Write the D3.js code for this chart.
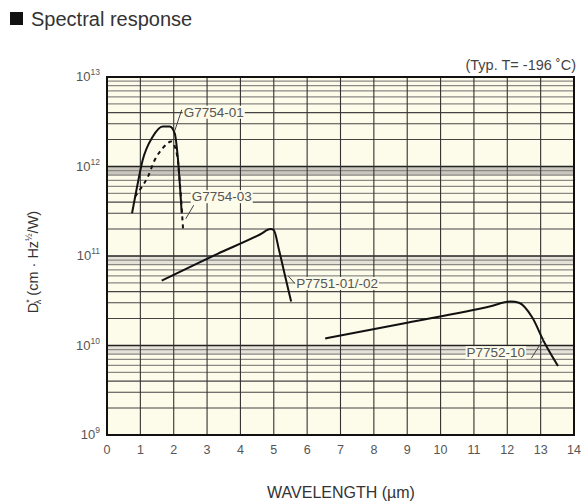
<!DOCTYPE html>
<html>
<head>
<meta charset="utf-8">
<script src="https://cdn.jsdelivr.net/npm/d3@7"></script>
<style>
  body { margin: 0; background: #fff; }
  text { font-family: "Liberation Sans", Arial, sans-serif; }
</style>
</head>
<body>
<svg></svg>
<script>
const width = 582
const height = 504

// curve data (wavelength in um, D* in cm Hz^1/2 / W)
const g01X = [0.75, 0.9, 1.07, 1.37, 1.67, 1.88, 2.03, 2.12, 2.24]
const g01Y = [3e11, 5.9e11, 1.18e12, 2.15e12, 2.8e12, 2.8e12, 2.35e12, 1.3e12, 3e11]

const g03X = [0.84, 1.0, 1.22, 1.43, 1.67, 1.93, 2.1, 2.2, 2.28]
const g03Y = [4.6e11, 5.6e11, 7.6e11, 1.18e12, 1.6e12, 1.9e12, 1.35e12, 5.5e11, 2e11]

const p51X = [1.64, 3.3, 4.6, 4.9, 5.0, 5.15, 5.3, 5.52]
const p51Y = [5.3e10, 1.05e11, 1.75e11, 2.0e11, 1.95e11, 1.2e11, 6.9e10, 3.1e10]

const p52X = [6.54, 9.0, 11.5, 12.1, 12.35, 12.75, 13.1, 13.52]
const p52Y = [1.2e10, 1.8e10, 2.75e10, 3.1e10, 3.0e10, 2.05e10, 1.1e10, 5.9e9]

// labels: text position and leader line ends
const labelNames = ["G7754-01", "G7754-03", "P7751-01/-02", "P7752-10"]
const labelX = [2.3, 2.54, 5.67, 10.78]
const labelY = [3.6e12, 4.1e11, 4.4e10, 7.4e9]
const leaderFrom = [[2.24, 4.3e12], [2.6, 3.7e11], [5.64, 4.9e10], [12.72, 7.2e9]]
const leaderTo = [[2.03, 2.5e12], [2.36, 2.6e11], [5.43, 6e10], [13.1, 1.2e10]]

const xTicks = d3.range(0, 15)
const yDecades = [9, 10, 11, 12, 13]

const svg = d3.select('svg')
  .attr('width', width)
  .attr('height', height)

const x = d3.scaleLinear().domain([0, 14]).range([107, 574])
const y = d3.scaleLog().domain([1e9, 1e13]).range([435, 77])

// title
svg.append('rect').attr('x', 10).attr('y', 12).attr('width', 13).attr('height', 13).attr('fill', '#111')
svg.append('text').attr('x', 31).attr('y', 26)
  .attr('font-size', 20).attr('fill', '#333')
  .text('Spectral response')

svg.append('text').attr('x', 576).attr('y', 70)
  .attr('text-anchor', 'end').attr('font-size', 14.5).attr('fill', '#444')
  .text('(Typ. T= -196 \u02daC)')

const g = svg.append('g')

g.append('rect')
  .attr('x', x(0)).attr('y', y(1e13))
  .attr('width', x(14) - x(0)).attr('height', y(1e9) - y(1e13))
  .attr('fill', '#fdfbea')

// grey band just below each inner decade
;[12, 11, 10].forEach(d => {
  g.append('rect')
    .attr('x', x(0)).attr('y', y(Math.pow(10, d)))
    .attr('width', x(14) - x(0))
    .attr('height', y(0.8 * Math.pow(10, d)) - y(Math.pow(10, d)))
    .attr('fill', d == 12 ? '#c9c7bd' : '#e4e2d8')
})

// minor horizontal lines
const minor = []
yDecades.slice(0, 4).forEach(d => {
  for (let k = 2; k <= 9; k++) minor.push(k * Math.pow(10, d))
})
const mant = d => Math.round(d / Math.pow(10, Math.floor(Math.log10(d) + 1e-9)))
g.selectAll('.minor')
  .data(minor)
  .enter().append('line')
    .attr('class', 'minor')
    .attr('x1', x(0)).attr('x2', x(14))
    .attr('y1', d => y(d)).attr('y2', d => y(d))
    .attr('stroke', d => mant(d) <= 4 ? '#444' : '#8a8a84')
    .attr('stroke-width', d => mant(d) <= 4 ? 1.1 : 1.3)

// major horizontal lines
g.selectAll('.major')
  .data(yDecades)
  .enter().append('line')
    .attr('x1', x(0)).attr('x2', x(14))
    .attr('y1', d => y(Math.pow(10, d))).attr('y2', d => y(Math.pow(10, d)))
    .attr('stroke', '#222').attr('stroke-width', 1.5)

// vertical lines
g.selectAll('.vline')
  .data(xTicks)
  .enter().append('line')
    .attr('x1', d => x(d)).attr('x2', d => x(d))
    .attr('y1', y(1e13)).attr('y2', y(1e9))
    .attr('stroke', '#333').attr('stroke-width', 1.1)

g.append('rect')
  .attr('x', x(0)).attr('y', y(1e13))
  .attr('width', x(14) - x(0)).attr('height', y(1e9) - y(1e13))
  .attr('fill', 'none').attr('stroke', '#111').attr('stroke-width', 2)

// x tick labels
svg.selectAll('.xt')
  .data(xTicks)
  .enter().append('text')
    .attr('x', d => x(d)).attr('y', 454)
    .attr('text-anchor', 'middle').attr('font-size', 12.5).attr('fill', '#555')
    .text(d => d)

// y tick labels
const yt = svg.selectAll('.yt')
  .data(yDecades)
  .enter().append('text')
    .attr('x', 100).attr('y', d => y(Math.pow(10, d)) + 4)
    .attr('text-anchor', 'end').attr('font-size', 13).attr('fill', '#555')
yt.append('tspan').text('10')
yt.append('tspan').attr('dy', -6).attr('font-size', 8.5).text(d => d)

// axis titles
svg.append('text')
  .attr('x', 341).attr('y', 498)
  .attr('text-anchor', 'middle').attr('font-size', 16).attr('fill', '#333')
  .text('WAVELENGTH (\u00b5m)')

const yl = svg.append('text')
  .attr('transform', 'translate(38,262) rotate(-90)')
  .attr('text-anchor', 'middle').attr('font-size', 14.5).attr('fill', '#333')
yl.append('tspan').text('D')
yl.append('tspan').attr('dy', -6).attr('font-size', 9).text('*')
yl.append('tspan').attr('dy', 9).attr('dx', -5).attr('font-size', 9).text('\u03bb')
yl.append('tspan').attr('dy', -3).text(' (cm \u00b7 Hz')
yl.append('tspan').attr('dy', -6).attr('font-size', 9).text('\u00bd')
yl.append('tspan').attr('dy', 6).text('/W)')

// curves
const line = d3.line()
  .x(d => x(d[0]))
  .y(d => y(d[1]))
  .curve(d3.curveMonotoneX)

const series = [
  { xs: g01X, ys: g01Y, dash: null },
  { xs: g03X, ys: g03Y, dash: '4,4' },
  { xs: p51X, ys: p51Y, dash: null },
  { xs: p52X, ys: p52Y, dash: null }
]

g.selectAll('.curve')
  .data(series)
  .enter().append('path')
    .attr('d', s => line(s.xs.map((v, i) => [v, s.ys[i]])))
    .attr('fill', 'none')
    .attr('stroke', '#111')
    .attr('stroke-width', 2)
    .attr('stroke-dasharray', s => s.dash)

// labels
labelNames.forEach((name, i) => {
  g.append('line')
    .attr('x1', x(leaderFrom[i][0])).attr('y1', y(leaderFrom[i][1]))
    .attr('x2', x(leaderTo[i][0])).attr('y2', y(leaderTo[i][1]))
    .attr('stroke', '#444').attr('stroke-width', 1)
  const t = g.append('text')
    .attr('x', x(labelX[i])).attr('y', y(labelY[i]))
    .attr('font-size', 13.5).attr('fill', '#555')
    .text(name)
  const bb = t.node().getBBox()
  g.insert('rect', () => t.node())
    .attr('x', bb.x - 1).attr('y', bb.y + 1)
    .attr('width', bb.width + 2).attr('height', bb.height - 2)
    .attr('fill', '#fdfbea')
})
</script>
</body>
</html>
